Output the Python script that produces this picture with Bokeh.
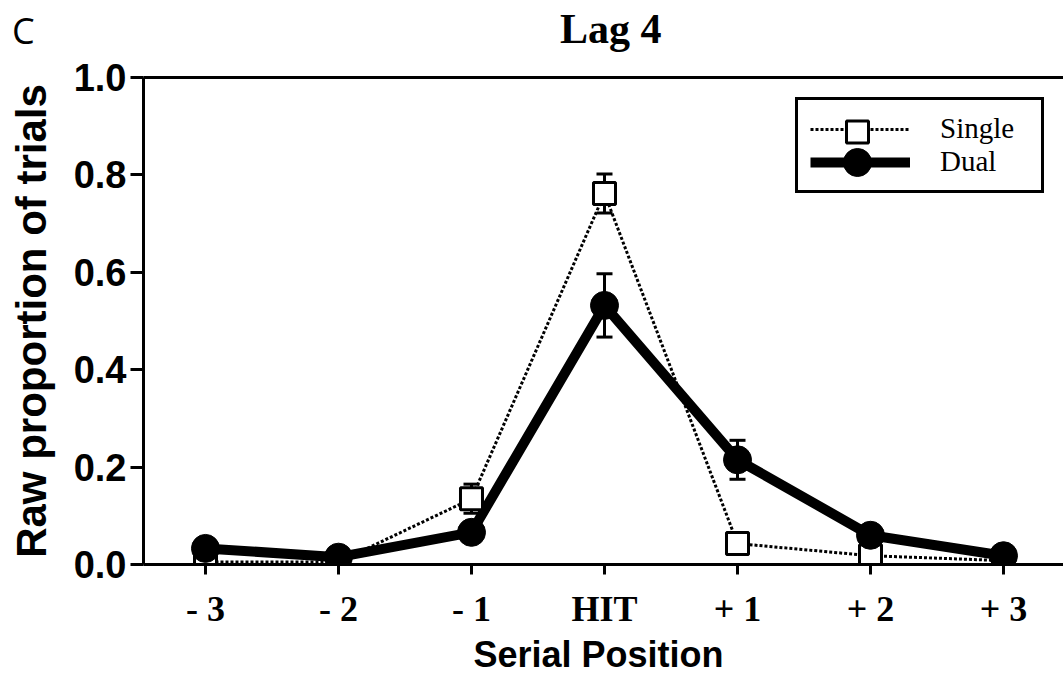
from bokeh.plotting import figure
from bokeh.models import (FixedTicker, LinearAxis, Range1d, Legend, LegendItem,
                          Whisker, TeeHead, ColumnDataSource, Div, GridBox)
from bokeh.embed import file_html
from bokeh.resources import INLINE

# ---- data ----
positions = [0, 1, 2, 3, 4, 5, 6]
tick_labels = ["- 3", "- 2", "- 1", "HIT", "+ 1", "+ 2", "+ 3"]
single = [0.005, 0.005, 0.135, 0.762, 0.043, 0.018, 0.008]
single_err = [0.0, 0.0, 0.03, 0.04, 0.0, 0.0, 0.0]
dual = [0.033, 0.015, 0.066, 0.532, 0.215, 0.060, 0.018]
dual_err = [0.0, 0.0, 0.0, 0.065, 0.04, 0.0, 0.0]
y_ticks = [0.0, 0.2, 0.4, 0.6, 0.8, 1.0]
y_tick_labels = ["0.0", "0.2", "0.4", "0.6", "0.8", "1.0"]

SANS = "Liberation Sans"
SERIF = "Liberation Serif"

p = figure(width=1063, height=677, output_backend="svg", toolbar_location=None,
           x_range=Range1d(-0.466, 6.451), y_range=Range1d(0, 1.0),
           min_border_left=143, min_border_right=0, min_border_top=77,
           min_border_bottom=113)
p.outline_line_color = None
p.grid.grid_line_color = None
p.background_fill_color = "white"
p.border_fill_color = "white"

# axes
xa = p.xaxis[0]
xa.ticker = FixedTicker(ticks=positions)
xa.major_label_overrides = {i: t for i, t in zip(positions, tick_labels)}
xa.major_label_text_font = SERIF
xa.major_label_text_font_style = "bold"
xa.major_label_text_font_size = "36px"
xa.major_label_text_color = "black"
xa.axis_line_width = 3
xa.major_tick_line_width = 3
xa.major_tick_out = 10
xa.major_tick_in = 0
xa.minor_tick_line_color = None
xa.major_label_standoff = 14
xa.axis_label = "Serial  Position"
xa.axis_label_text_font = SANS
xa.axis_label_text_font_style = "bold"
xa.axis_label_text_font_size = "36px"
xa.axis_label_text_color = "black"
xa.axis_label_standoff = 2

ya = p.yaxis[0]
ya.ticker = FixedTicker(ticks=y_ticks)
ya.major_label_overrides = {v: t for v, t in zip(y_ticks, y_tick_labels)}
ya.major_label_text_font = SANS
ya.major_label_text_font_style = "bold"
ya.major_label_text_font_size = "38px"
ya.major_label_text_color = "black"
ya.axis_line_width = 3
ya.major_tick_line_width = 3
ya.major_tick_out = 13
ya.major_tick_in = 0
ya.minor_tick_line_color = None
ya.major_label_standoff = 4
ya.axis_label = "Raw proportion of trials"
ya.axis_label_text_font = SANS
ya.axis_label_text_font_style = "bold"
ya.axis_label_text_font_size = "42px"
ya.axis_label_text_color = "black"
ya.axis_label_standoff = 16

# top border line
top = LinearAxis(ticker=FixedTicker(ticks=[]), axis_line_width=3,
                 major_label_text_font_size="0px", major_label_standoff=0,
                 major_tick_out=0, major_tick_in=0, major_tick_line_color=None,
                 minor_tick_line_color=None)
p.add_layout(top, "above")

# data glyphs
src = ColumnDataSource(dict(x=positions, s=single, d=dual))

s_line = p.line("x", "s", source=src, line_color="black", line_width=3, line_dash="3 2")
d_line = p.line("x", "d", source=src, line_color="black", line_width=10)

se = ColumnDataSource(dict(x=[x for x, e in zip(positions, single_err) if e > 0],
                           lo=[v - e for v, e in zip(single, single_err) if e > 0],
                           hi=[v + e for v, e in zip(single, single_err) if e > 0]))
de = ColumnDataSource(dict(x=[x for x, e in zip(positions, dual_err) if e > 0],
                           lo=[v - e for v, e in zip(dual, dual_err) if e > 0],
                           hi=[v + e for v, e in zip(dual, dual_err) if e > 0]))
for s in (se, de):
    w = Whisker(source=s, base="x", lower="lo", upper="hi", line_width=3, line_color="black",
                upper_head=TeeHead(size=16, line_width=3, line_color="black"),
                lower_head=TeeHead(size=16, line_width=3, line_color="black"))
    p.add_layout(w)

s_mark = p.scatter("x", "s", source=src, marker="square", size=22, fill_color="white",
                   line_color="black", line_width=3)
d_mark = p.scatter("x", "d", source=src, marker="circle", size=28, fill_color="black",
                   line_color="black")

# legend: box, lines and texts
legend = Legend(items=[LegendItem(label="Single", renderers=[s_line]),
                       LegendItem(label="Dual", renderers=[d_line])],
                location=(652, 371), orientation="vertical",
                glyph_width=100, glyph_height=32, label_height=32, label_width=89,
                label_standoff=30, spacing=0, padding=12, margin=0,
                label_text_font=SERIF, label_text_font_size="29px", label_text_color="black",
                border_line_color="black", border_line_width=3, border_line_alpha=1.0,
                background_fill_color="white", background_fill_alpha=1.0)
p.add_layout(legend)
# legend markers drawn at full size
for rend, gh, ly in ((s_mark, 55, 405), (d_mark, 70, 367)):
    lg = Legend(items=[LegendItem(label="", renderers=[rend])],
                location=(664, ly), orientation="vertical",
                glyph_width=100, glyph_height=gh, label_height=0, label_width=0,
                label_standoff=0, spacing=0, padding=0, margin=0,
                label_text_font_size="1px",
                border_line_color=None, background_fill_alpha=0.0)
    p.add_layout(lg)

panel = Div(text="C", width=44, height=52,
            styles={"font-family": "Open Sans", "font-size": "36px", "color": "black",
                    "line-height": "1", "padding-left": "7px", "padding-top": "8px"})

title = Div(text="Lag 4", width=1063, height=50,
            styles={"font-family": SERIF, "font-weight": "bold", "font-size": "42px",
                    "color": "black", "line-height": "1", "text-align": "left",
                    "text-indent": "555px", "padding-top": "3px", "white-space": "nowrap"})

grid = GridBox(children=[(p, 0, 0), (panel, 0, 0), (title, 0, 0)])

open("out.html", "w").write(file_html(grid, INLINE))
